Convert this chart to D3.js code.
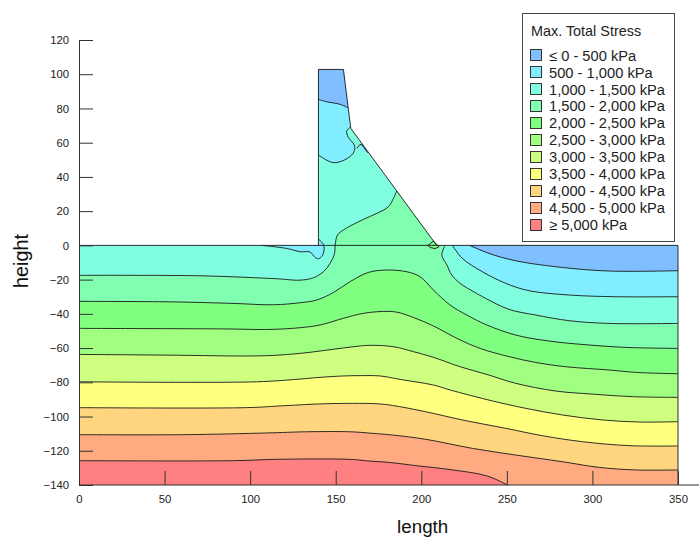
<!DOCTYPE html>
<html>
<head>
<meta charset="utf-8">
<style>
    html, body { margin: 0; padding: 0; background: #fff; }
    svg { display: block; font-family: "Liberation Sans", Arial, sans-serif; }
    .contour { fill: none; stroke: #1a1a1a; stroke-width: 1; stroke-opacity: 0.9; }
    .axis text { font-size: 11.3px; fill: #222; }
    .axis line, .axis path { stroke: #333; }
    .label { font-size: 18.8px; fill: #111; }
    .legend text { font-size: 14.7px; fill: #222; }
</style>
<script src="https://cdn.jsdelivr.net/npm/d3@7"></script>
</head>
<body>
<svg width="699" height="538"></svg>
<script>
    // legend
    var legendLabels = ["≤ 0 - 500 kPa", "500 - 1,000 kPa", "1,000 - 1,500 kPa", "1,500 - 2,000 kPa",
        "2,000 - 2,500 kPa", "2,500 - 3,000 kPa", "3,000 - 3,500 kPa", "3,500 - 4,000 kPa",
        "4,000 - 4,500 kPa", "4,500 - 5,000 kPa", "≥ 5,000 kPa"];
    var bandColors = ["#80bfff", "#80eeff", "#80ffe0", "#80ffb0", "#80ff80", "#a0ff80",
        "#cfff80", "#ffff80", "#ffd580", "#ffaa80", "#ff8080"];

    var xTicks = [0, 50, 100, 150, 200, 250, 300, 350];
    var yTicks = [120, 100, 80, 60, 40, 20, 0, -20, -40, -60, -80, -100, -120, -140];

    // section outline [length, height]
    var damFace = [[139.9, 0], [139.9, 102.8], [154.5, 102.8], [158.8, 68.4], [209, 0]];
    var ground = [[0, 0], [350, 0]];

    // contours, [length, height]
    var c500Right = [[228.3, 0], [239.6, -4.7], [255.2, -9], [282.5, -12.9], [309.8, -15], [350, -14.8]];
    var c1000Right = [[218.2, 0], [224, -7.6], [235.7, -15.4], [249.4, -22.2], [263, -26.5], [286.4, -29], [313.6, -30], [350, -30]];
    var c1500Right = [[213.9, 0], [212, -5.7], [215, -11.5], [217.8, -17.3], [222.7, -22.2], [230.5, -27], [237.7, -31], [251.3, -37.4], [266.9, -40.7], [286.4, -44], [309.8, -45.6], [350, -45.6]];
    var c1500Left = [[0, -17.5], [72, -17.8], [115.5, -19.5], [129.2, -20.3], [137, -18.9], [142.8, -15.4], [146.7, -10.5], [149.3, -4.7], [149.7, 0.2],
        [151, 6], [154.5, 9], [166.2, 15.2], [174, 18.7], [180.8, 22.6], [183.7, 27.4], [185.7, 31.9]];
    var c2000 = [[0, -32.7], [54, -33], [90, -33.9], [113.6, -34.7], [129.2, -33.5], [139, -31.9], [148.7, -27.5], [158.4, -21.2],
        [169.1, -15.8], [179.9, -14.4], [191.5, -15.4], [199.3, -18.3], [207.1, -26.1], [216.9, -34.9], [226.6, -40.7],
        [238.3, -46.5], [255.2, -52.4], [274.7, -55.9], [298, -58.2], [319.5, -59.6], [350, -60.2]];
    var c2500 = [[0, -48.5], [83.4, -48.8], [111.6, -49.1], [129.2, -48.1], [140.9, -46.5], [154.5, -42.6], [166.2, -39.7], [177.9, -38.6], [185.7, -39],
        [195.4, -42.1], [207.1, -47.1], [220.8, -54.3], [234.4, -60.2], [251.3, -65], [266.9, -68.4], [284.4, -70.9], [309.8, -72.8], [325.3, -74.2], [350, -75]];
    var c3000 = [[0, -63.7], [50.3, -64.1], [107.7, -64.5], [129.2, -63.1], [144.8, -61.2], [162.3, -59], [170.1, -58.4], [183.8, -59.2],
        [195.4, -62.1], [207.1, -65.4], [222.7, -70.9], [238.3, -75.4], [255.2, -80.6], [278.6, -85.1], [300, -86.9], [323.4, -88.4], [350, -88.8]];
    var c3500 = [[0, -79.7], [103.8, -79.7], [129.2, -78.1], [140.9, -77.1], [154.5, -76.3], [164.3, -76.1], [176, -76.3], [187.6, -78.3], [207.1, -81.6],
        [216.9, -84.5], [241.6, -90.9], [261, -95.2], [282.5, -99.1], [305.9, -102], [327.3, -103.2], [350, -103]];
    var c4000 = [[0, -94.8], [98, -94.8], [119.4, -93.7], [144.8, -92.5], [173.4, -92.5], [183.1, -93.5], [202.6, -97.2], [224, -102], [249.4, -106.9],
        [270.8, -111.2], [294.2, -114.7], [321.4, -117], [350, -117.2]];
    var c4500 = [[0, -110.6], [61, -110.6], [109.7, -109.6], [133, -108.9], [158.4, -108.9], [171.4, -109.8], [183.1, -110.8], [202.6, -113.3], [229.9, -118.6],
        [255.2, -122.5], [282.5, -126.4], [303.9, -129.7], [325.3, -131.2], [350, -131.2]];
    var c5000 = [[0, -125.8], [90.2, -125.8], [115.5, -125], [157.8, -125], [169.5, -126], [181.2, -126.8], [198.7, -128.9], [216.2, -130.9], [238.7, -134.8], [250.3, -140]];

    // contours inside the dam and the small pockets
    var c500Dam = [[139.9, 85.3], [144.8, 83.9], [152.6, 82.4], [157.2, 80.4]];
    var c1000Dam = [[139.9, 52.8], [145.7, 49.3], [149.6, 48.3], [156.8, 50.8], [160.7, 54.7], [160.9, 58.6], [157.4, 63.1], [156.4, 66.8], [158.4, 68.9]];
    var pocketFace = [[162.3, 56.7], [164.2, 59], [165.4, 58.7], [168.7, 54.1]];
    var pocketHeel = [[106.8, 0], [121.4, -1.8], [129.2, -3.7], [135, -3.9], [137.9, -7], [139.9, -7.8], [142.4, -5.7], [143.2, -0.8], [142.4, 1.2], [139.9, 3.7]];
    var pocketToe = [[203.8, 0], [207.1, 2.5], [210.4, -0.8], [208, -1.9], [205.2, -1.2], [203.8, 0]];

    var svg = d3.select("svg");

    var x = d3.scaleLinear().domain([0, 350]).range([79, 678]);
    var y = d3.scaleLinear().domain([-140, 120]).range([485, 40]);

    var line = d3.line().x(function(d) { return x(d[0]); }).y(function(d) { return y(d[1]); });
    var rough = d3.line().x(line.x()).y(line.y()).curve(d3.curveCatmullRom.alpha(0.5));

    // closed shape: first part sets the pen, the rest join on
    // (d3.line closes a one point path with Z, strip that)
    function band(parts, color) {
        var d = parts.map(function(p, i) {
            p = p.replace(/Z$/, "");
            return i == 0 ? p : p.replace(/^M/, "L");
        }).join("");
        svg.append("path").attr("d", d + "Z").attr("fill", color);
    }
    function contour(d) {
        svg.append("path").attr("class", "contour").attr("d", d);
    }

    var bottomCorners = line([[350, -140], [0, -140]]);
    var topRight = line([[350, 0]]);

    // foundation + dam, painted back to front
    band([line([[0, 0]].concat(damFace)), topRight, bottomCorners], bandColors[2]);
    band([rough(c1000Right), topRight], bandColors[1]);
    band([rough(c500Right), topRight], bandColors[0]);
    band([line([[139.9, 102.8], [154.5, 102.8], [158.8, 68.4]]), rough(c1000Dam.slice().reverse())], bandColors[1]);
    band([line([[139.9, 102.8], [154.5, 102.8]]), rough(c500Dam.slice().reverse())], bandColors[0]);
    band([line(pocketFace)], bandColors[1]);
    band([rough(pocketHeel), line([[139.9, 0]])], bandColors[1]);
    band([rough(c1500Left), line([[209, 0]]), rough(c1500Right), bottomCorners], bandColors[3]);
    band([line(pocketToe)], bandColors[4]);

    var lowerContours = [c2000, c2500, c3000, c3500, c4000, c4500, c5000];
    lowerContours.forEach(function(c, i) {
        band([rough(c), bottomCorners], bandColors[i + 4]);
    });

    [c500Right, c1000Right, c1500Right, c1500Left, c500Dam, c1000Dam, pocketHeel]
        .concat(lowerContours).forEach(function(c) { contour(rough(c)); });
    contour(line(pocketFace));
    contour(line(pocketToe));

    // section outline
    contour(line(damFace));
    contour(line(ground));
    contour(line([[350, 0], [350, -140]]));

    var xAxis = svg.append("g").attr("class", "axis")
        .attr("transform", "translate(0," + y(-140) + ")")
        .call(d3.axisBottom(x).tickValues(xTicks).tickFormat(d3.format("d")).tickSizeInner(-14).tickSizeOuter(0).tickPadding(10));
    xAxis.select(".domain").remove();
    xAxis.append("line").attr("x1", x(0)).attr("x2", 699);

    svg.append("g").attr("class", "axis")
        .attr("transform", "translate(" + x(0) + ",0)")
        .call(d3.axisLeft(y).tickValues(yTicks).tickFormat(d3.format("d")).tickSizeInner(-14).tickSizeOuter(0).tickPadding(10));

    svg.append("text").attr("class", "label").attr("text-anchor", "middle").style("font-size", "19.8px")
        .attr("transform", "translate(27.5,261) rotate(-90)").text("height");
    svg.append("text").attr("class", "label").attr("text-anchor", "middle")
        .attr("x", 422.7).attr("y", 533).text("length");

    var legend = svg.append("g").attr("class", "legend");
    legend.append("rect").attr("x", 522.5).attr("y", 13.5).attr("width", 152).attr("height", 228)
        .attr("fill", "#fff").attr("stroke", "#444");
    legend.append("text").attr("x", 531).attr("y", 36).style("font-size", "14.4px").text("Max. Total Stress");

    var row = d3.scaleLinear().domain([0, 10]).range([55.7, 225]);
    var rows = legend.selectAll("g.row").data(legendLabels).enter().append("g").attr("class", "row");
    rows.append("rect").attr("x", 530.5).attr("width", 11).attr("height", 11)
        .attr("y", function(d, i) { return Math.round(row(i) - 5.5) - 0.5; })
        .attr("fill", function(d, i) { return bandColors[i]; })
        .attr("stroke", "#333");
    rows.append("text").attr("x", 549).attr("y", function(d, i) { return row(i) + 5; })
        .text(function(d) { return d; });
</script>
</body>
</html>
